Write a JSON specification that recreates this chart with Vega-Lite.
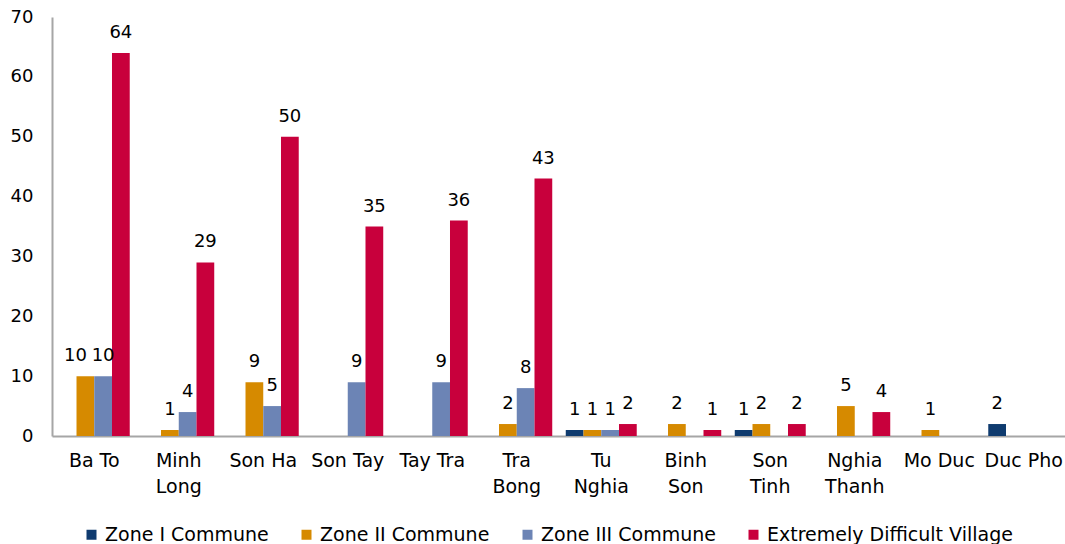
{
  "$schema": "https://vega.github.io/schema/vega-lite/v6.json",
  "width": 1014,
  "height": 419,
  "autosize": {"type": "none"},
  "padding": {"left": 52, "top": 17, "right": 0, "bottom": 108},
  "background": "white",
  "config": {"view": {"stroke": null}, "font": "DejaVu Sans"},
  "data": {
    "values": [
      {"district": "Ba To", "series": "Zone I Commune", "value": 0},
      {"district": "Ba To", "series": "Zone II Commune", "value": 10},
      {"district": "Ba To", "series": "Zone III Commune", "value": 10},
      {"district": "Ba To", "series": "Extremely Difficult Village", "value": 64},
      {"district": "Minh Long", "series": "Zone I Commune", "value": 0},
      {"district": "Minh Long", "series": "Zone II Commune", "value": 1},
      {"district": "Minh Long", "series": "Zone III Commune", "value": 4},
      {"district": "Minh Long", "series": "Extremely Difficult Village", "value": 29},
      {"district": "Son Ha", "series": "Zone I Commune", "value": 0},
      {"district": "Son Ha", "series": "Zone II Commune", "value": 9},
      {"district": "Son Ha", "series": "Zone III Commune", "value": 5},
      {"district": "Son Ha", "series": "Extremely Difficult Village", "value": 50},
      {"district": "Son Tay", "series": "Zone I Commune", "value": 0},
      {"district": "Son Tay", "series": "Zone II Commune", "value": 0},
      {"district": "Son Tay", "series": "Zone III Commune", "value": 9},
      {"district": "Son Tay", "series": "Extremely Difficult Village", "value": 35},
      {"district": "Tay Tra", "series": "Zone I Commune", "value": 0},
      {"district": "Tay Tra", "series": "Zone II Commune", "value": 0},
      {"district": "Tay Tra", "series": "Zone III Commune", "value": 9},
      {"district": "Tay Tra", "series": "Extremely Difficult Village", "value": 36},
      {"district": "Tra Bong", "series": "Zone I Commune", "value": 0},
      {"district": "Tra Bong", "series": "Zone II Commune", "value": 2},
      {"district": "Tra Bong", "series": "Zone III Commune", "value": 8},
      {"district": "Tra Bong", "series": "Extremely Difficult Village", "value": 43},
      {"district": "Tu Nghia", "series": "Zone I Commune", "value": 1},
      {"district": "Tu Nghia", "series": "Zone II Commune", "value": 1},
      {"district": "Tu Nghia", "series": "Zone III Commune", "value": 1},
      {"district": "Tu Nghia", "series": "Extremely Difficult Village", "value": 2},
      {"district": "Binh Son", "series": "Zone I Commune", "value": 0},
      {"district": "Binh Son", "series": "Zone II Commune", "value": 2},
      {"district": "Binh Son", "series": "Zone III Commune", "value": 0},
      {"district": "Binh Son", "series": "Extremely Difficult Village", "value": 1},
      {"district": "Son Tinh", "series": "Zone I Commune", "value": 1},
      {"district": "Son Tinh", "series": "Zone II Commune", "value": 2},
      {"district": "Son Tinh", "series": "Zone III Commune", "value": 0},
      {"district": "Son Tinh", "series": "Extremely Difficult Village", "value": 2},
      {"district": "Nghia Thanh", "series": "Zone I Commune", "value": 0},
      {"district": "Nghia Thanh", "series": "Zone II Commune", "value": 5},
      {"district": "Nghia Thanh", "series": "Zone III Commune", "value": 0},
      {"district": "Nghia Thanh", "series": "Extremely Difficult Village", "value": 4},
      {"district": "Mo Duc", "series": "Zone I Commune", "value": 0},
      {"district": "Mo Duc", "series": "Zone II Commune", "value": 1},
      {"district": "Mo Duc", "series": "Zone III Commune", "value": 0},
      {"district": "Mo Duc", "series": "Extremely Difficult Village", "value": 0},
      {"district": "Duc Pho", "series": "Zone I Commune", "value": 2},
      {"district": "Duc Pho", "series": "Zone II Commune", "value": 0},
      {"district": "Duc Pho", "series": "Zone III Commune", "value": 0},
      {"district": "Duc Pho", "series": "Extremely Difficult Village", "value": 0}
    ]
  },
  "encoding": {
    "x": {
      "field": "district",
      "type": "nominal",
      "sort": ["Ba To", "Minh Long", "Son Ha", "Son Tay", "Tay Tra", "Tra Bong", "Tu Nghia", "Binh Son", "Son Tinh", "Nghia Thanh", "Mo Duc", "Duc Pho"],
      "scale": {"paddingInner": 0.16, "paddingOuter": 0.08},
      "axis": {
        "title": null,
        "labelAngle": 0,
        "ticks": false,
        "domainColor": "#A6A6A6",
        "domainWidth": 2,
        "labelFontSize": 19,
        "labelColor": "#000000",
        "labelPadding": 15,
        "labelLineHeight": 26,
        "labelExpr": "indexof(['Minh Long','Tra Bong','Tu Nghia','Binh Son','Son Tinh','Nghia Thanh'], datum.value) >= 0 ? split(datum.value, ' ') : datum.value"
      }
    },
    "xOffset": {
      "field": "series",
      "type": "nominal",
      "sort": ["Zone I Commune", "Zone II Commune", "Zone III Commune", "Extremely Difficult Village"],
      "scale": {"paddingInner": 0, "paddingOuter": 0}
    },
    "y": {
      "field": "value",
      "type": "quantitative",
      "scale": {"domain": [0, 70]},
      "axis": {
        "title": null,
        "values": [0, 10, 20, 30, 40, 50, 60, 70],
        "ticks": false,
        "grid": false,
        "domainColor": "#A6A6A6",
        "domainWidth": 2,
        "labelFontSize": 18,
        "labelColor": "#000000",
        "labelPadding": 19
      }
    }
  },
  "layer": [
    {
      "mark": {"type": "bar"},
      "encoding": {
        "color": {
          "field": "series",
          "type": "nominal",
          "sort": ["Zone I Commune", "Zone II Commune", "Zone III Commune", "Extremely Difficult Village"],
          "scale": {
            "domain": ["Zone I Commune", "Zone II Commune", "Zone III Commune", "Extremely Difficult Village"],
            "range": ["#0F3B6F", "#D68A00", "#6C84B5", "#C8003C"]
          },
          "legend": {
            "orient": "none",
            "legendX": 30,
            "legendY": 508,
            "direction": "horizontal",
            "title": null,
            "symbolType": "square",
            "symbolSize": 100,
            "symbolStrokeWidth": 0,
            "labelFontSize": 19,
            "labelLimit": 0,
            "labelColor": "#000000",
            "columnPadding": 28,
            "labelOffset": 4,
            "padding": 0
          }
        }
      }
    },
    {
      "transform": [{"filter": "datum.value > 0 && !(datum.district == 'Ba To' && datum.series == 'Zone II Commune')"}],
      "mark": {"type": "text", "baseline": "alphabetic", "dy": -15, "fontSize": 18, "color": "#000000"},
      "encoding": {"text": {"field": "value", "type": "quantitative"}}
    },
    {
      "transform": [{"filter": "datum.district == 'Ba To' && datum.series == 'Zone II Commune'"}],
      "mark": {"type": "text", "baseline": "alphabetic", "dy": -15, "dx": -10, "fontSize": 18, "color": "#000000"},
      "encoding": {"text": {"field": "value", "type": "quantitative"}}
    }
  ]
}
